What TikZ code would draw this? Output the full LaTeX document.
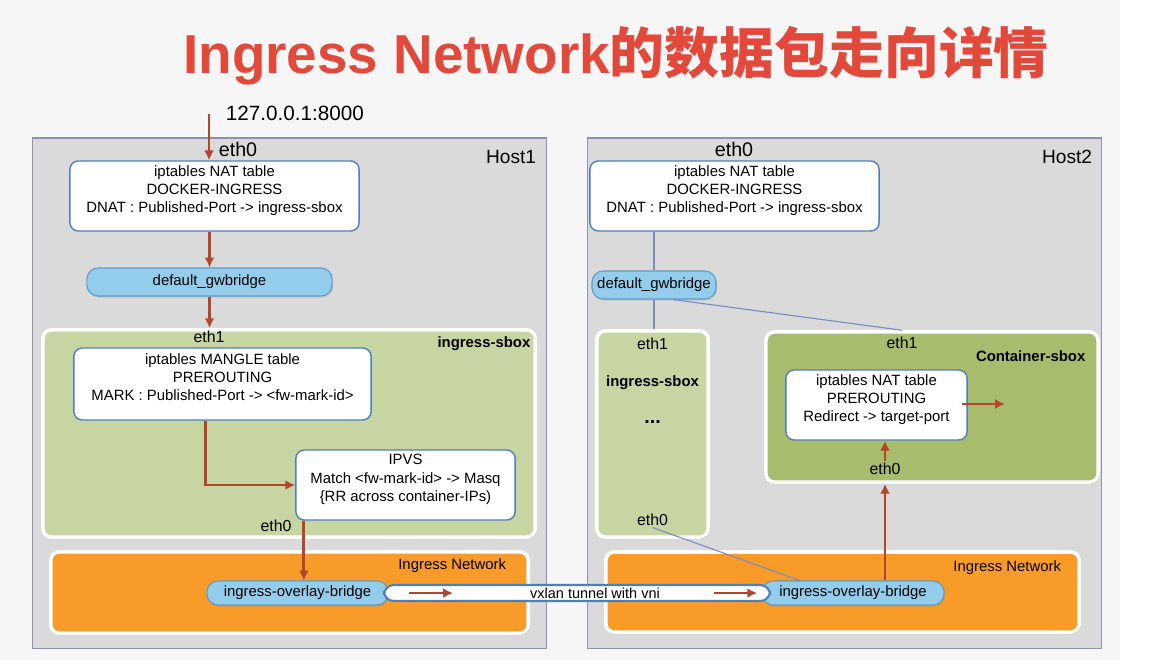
\documentclass[tikz,border=0pt]{standalone}
\usepackage{fontspec}
\setmainfont{Liberation Sans}
\newfontfamily\cjkfont{Noto Sans CJK SC}
\usetikzlibrary{arrows.meta,positioning,calc,shadows}
\definecolor{Slide}{HTML}{F6F6F6}
\definecolor{HostGrey}{HTML}{DADADA}
\definecolor{HostLine}{HTML}{8D90B8}
\definecolor{SboxGreen}{HTML}{C6D5A1}
\definecolor{CtrGreen}{HTML}{A8BC6D}
\definecolor{NetOrange}{HTML}{F89B28}
\definecolor{BridgeBlue}{HTML}{94CDEB}
\definecolor{BridgeLine}{HTML}{5F9CC9}
\definecolor{BoxLine}{HTML}{4F7FBA}
\definecolor{Flow}{HTML}{B4452D}
\definecolor{Wire}{HTML}{7A8CC2}
\definecolor{Title}{HTML}{E2493B}
\newcommand\boxfont{\fontsize{10.6}{13}\selectfont}

\begin{document}
\begin{tikzpicture}[x=0.025cm,y=-0.025cm,
  hostbox/.style={draw=HostLine,fill=HostGrey,line width=0.8pt,inner sep=0pt},
  sandbox/.style={draw=white,line width=2.5pt,rounded corners=6pt,inner sep=0pt,
    drop shadow={shadow xshift=1pt,shadow yshift=-1.5pt,opacity=0.25}},
  netbox/.style={fill=NetOrange,draw=white,line width=2.5pt,rounded corners=6pt,inner sep=0pt,
    drop shadow={shadow xshift=1pt,shadow yshift=-1.5pt,opacity=0.25}},
  natbox/.style={draw=BoxLine,fill=white,line width=1pt,rounded corners=6pt,
    align=center,font=\boxfont,inner sep=2pt},
  bridgebox/.style={draw=BridgeLine,fill=BridgeBlue,line width=0.8pt,rounded corners=8pt,
    font=\boxfont,inner sep=1pt,
    drop shadow={shadow xshift=0.8pt,shadow yshift=-1.2pt,opacity=0.25}},
  tunnelbar/.style={draw=BoxLine,fill=white,line width=1.5pt,rounded corners=7pt,inner sep=0pt},
  eth/.style={font=\fontsize{11.3}{13}\selectfont,inner sep=1pt},
  boldlbl/.style={font=\boxfont\bfseries,inner sep=1pt},
  redarrow/.style={-{Latex[length=7pt,width=7pt]},line width=2.1pt,Flow},
  wire/.style={Wire,line width=0.8pt}]

  % slide
  \fill[Slide] (0,0) rectangle (1120,660);
  \fill[white] (1120,0) rectangle (1176,660);
  \useasboundingbox (0,0) rectangle (1176,660);

  \node[font=\fontsize{39}{46}\selectfont\bfseries,text=Title,anchor=base] (title) at (616,73)
    {Ingress Network{\cjkfont 的数据包走向详情}};

  % hosts
  \node[hostbox,minimum width=12.83cm,minimum height=12.75cm] (host1) at (289.5,393) {};
  \node[hostbox,minimum width=12.83cm,minimum height=12.75cm] (host2) at (844.5,393) {};
  \node[font=\fontsize{13.6}{16}\selectfont,anchor=east] (h1lbl) at (541,157) {Host1};
  \node[font=\fontsize{13.6}{16}\selectfont,anchor=east] (h2lbl) at (1097,157) {Host2};

  % containers and networks
  \node[sandbox,fill=SboxGreen,minimum width=12.3cm,minimum height=5.18cm] (sbox1) at (289,433.5) {};
  \node[netbox,minimum width=11.93cm,minimum height=2.03cm] (net1) at (289.5,592.5) {};
  \node[sandbox,fill=SboxGreen,minimum width=2.78cm,minimum height=5.15cm] (sbox2) at (652.5,434) {};
  \node[sandbox,fill=CtrGreen,minimum width=8.3cm,minimum height=3.75cm] (csbox) at (932,407) {};
  \node[netbox,minimum width=11.83cm,minimum height=2cm] (net2) at (842.5,592) {};

  % iptables / ipvs
  \node[natbox,minimum width=7.23cm,minimum height=1.75cm] (nat1) at (214.5,196)
    {iptables NAT table\\DOCKER-INGRESS\\DNAT : Published-Port -> ingress-sbox\\[-3pt]};
  \node[natbox,minimum width=7.23cm,minimum height=1.75cm] (nat2) at (734.5,196)
    {iptables NAT table\\DOCKER-INGRESS\\DNAT : Published-Port -> ingress-sbox\\[-3pt]};
  \node[natbox,minimum width=7.43cm,minimum height=1.8cm] (mangle) at (222.5,384)
    {iptables MANGLE table\\PREROUTING\\MARK : Published-Port -> <fw-mark-id>\\[-3pt]};
  \node[natbox,minimum width=5.48cm,minimum height=1.75cm] (ipvs) at (405.5,485)
    {IPVS\\Match <fw-mark-id> -> Masq\\\{RR across container-IPs)\\[-3pt]};
  \node[natbox,minimum width=4.53cm,minimum height=1.75cm] (nat3) at (876.5,405)
    {iptables NAT table\\PREROUTING\\Redirect -> target-port\\[-3pt]};

  % bridges
  \node[bridgebox,minimum width=6.13cm,minimum height=0.7cm] (gw1) at (209.5,282) {default\_gwbridge};
  \node[bridgebox,minimum width=3.1cm,minimum height=0.7cm] (gw2) at (654,285) {default\_gwbridge};
  \node[bridgebox,minimum width=4.53cm,minimum height=0.6cm] (br1) at (297.5,593) {ingress-overlay-bridge};
  \node[bridgebox,minimum width=4.55cm,minimum height=0.6cm] (br2) at (853,593) {ingress-overlay-bridge};
  \node[tunnelbar,minimum width=9.65cm,minimum height=0.4cm] (tunnel) at (577,593) {};
  \node[font=\fontsize{10.3}{12}\selectfont,inner sep=0pt] (vxlan) at (595,593) {vxlan tunnel with vni};

  % labels
  \node[font=\fontsize{14.7}{17}\selectfont,anchor=west] (addr) at (221,113) {127.0.0.1:8000};
  \node[font=\fontsize{14}{16}\selectfont,inner sep=1pt] (h1eth0) at (238,149) {eth0};
  \node[font=\fontsize{14}{16}\selectfont,inner sep=1pt] (h2eth0) at (734,149) {eth0};
  \node[eth] (s1eth1) at (209,337) {eth1};
  \node[eth] (s1eth0) at (276,526) {eth0};
  \node[boldlbl,anchor=east] (s1lbl) at (532,344) {ingress-sbox};
  \node[font=\boxfont,anchor=east] (n1lbl) at (511,566) {Ingress Network};
  \node[eth] (s2eth1) at (652.5,344) {eth1};
  \node[boldlbl] (s2lbl) at (652.5,383) {ingress-sbox};
  \node[font=\fontsize{14}{16}\selectfont\bfseries,inner sep=1pt] (s2dots) at (652.5,422) {...};
  \node[eth] (s2eth0) at (652.5,520) {eth0};
  \node[eth] (ceth1) at (902,343) {eth1};
  \node[boldlbl,anchor=east] (clbl) at (1087,356) {Container-sbox};
  \node[eth] (ceth0) at (885,469) {eth0};
  \node[font=\boxfont,anchor=east] (n2lbl) at (1066,568) {Ingress Network};
  \coordinate (in1) at (209,114);
  \coordinate (out3) at (1005,404);

  % packet path
  \draw[redarrow] (in1) -- (in1 |- nat1.north);
  \draw[redarrow] (nat1.south -| gw1) -- (gw1.north);
  \draw[redarrow] (gw1.south) -- (gw1.south |- sbox1.north);
  \draw[redarrow] ([xshift=-0.42cm]mangle.south) |- (ipvs.west);
  \draw[redarrow] ([xshift=-2.54cm]ipvs.south) -- ([xshift=-2.54cm]ipvs.south |- br1.north);
  \draw[redarrow] ([xshift=0.65cm]tunnel.west) -- ++(1.1cm,0);
  \draw[redarrow] ([xshift=-1.43cm]tunnel.east) -- ++(1.08cm,0);
  \draw[redarrow] ([xshift=0.8cm]br2.north) -- ([xshift=0.8cm]br2.north |- csbox.south);
  \draw[redarrow] (ceth0.north) -- (ceth0.north |- nat3.south);
  \draw[redarrow] ([xshift=-4pt]nat3.east |- out3) -- (out3);

  % host2 wiring
  \draw[wire] (nat2.south -| gw2) -- (gw2.north);
  \draw[wire] (gw2.south) -- (gw2.south |- sbox2.north);
  \draw[wire] ([xshift=0.48cm]gw2.south) -- (csbox.north -| ceth1);
  \draw[wire] (s2eth0.south) -- ([xshift=-1.33cm]br2.north);
\end{tikzpicture}
\end{document}
